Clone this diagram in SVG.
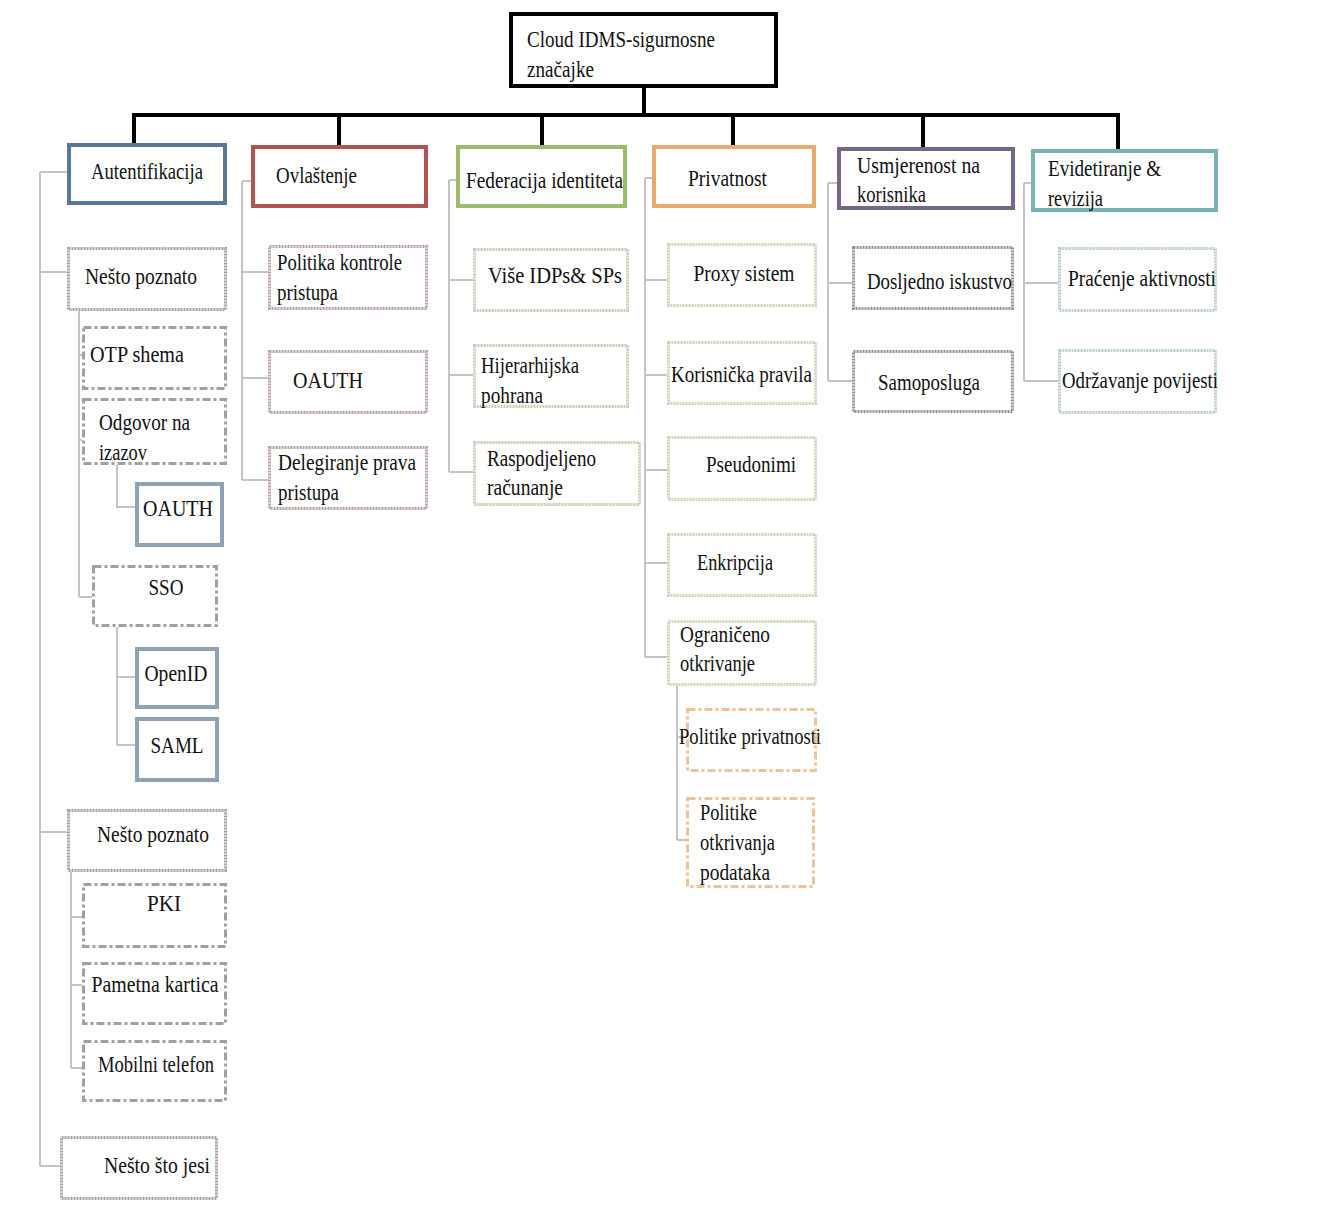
<svg xmlns="http://www.w3.org/2000/svg" width="1327" height="1207" viewBox="0 0 1327 1207">
<style>
text{font-family:"Liberation Serif","Times New Roman",serif;font-size:24px;fill:#111}
.m{text-anchor:middle}
rect{fill:#fff}
.root{stroke:#000;stroke-width:4}
.l1{stroke-width:4}
.dot{stroke-width:3;stroke-dasharray:2 1}
.dd{stroke-width:3;stroke-dasharray:8 3 3 3}
.bl{stroke:#8fa3b6;stroke-width:4}
.main{stroke:#000;stroke-width:4;fill:none}
.sub{stroke:#c4c4c4;stroke-width:2;fill:none}
</style>
<rect x="0" y="0" width="1327" height="1207" fill="#fff"/>
<g id="connectors">
<path class="main" d="M644 88V115M132 115H1120M134 115V143M339 115V145M542 115V145M733 115V145M923 115V147M1118 115V149"/>
<path class="sub" d="M40 172V1166M40 172H67M40 272H67M40 832H67M40 1166H60"/>
<path class="sub" d="M79 311V597M79 355H82M79 440H82M79 597H92M117 465V507H135M117 627V745M117 677H135M117 745H135"/>
<path class="sub" d="M71 872V1068M71 917H82M71 985H82M71 1068H82"/>
<path class="sub" d="M242 181V480M242 181H251M242 272H268M242 378H268M242 480H268"/>
<path class="sub" d="M449 180V472M449 180H456M449 280H473M449 375H473M449 472H473"/>
<path class="sub" d="M645 178V657M645 178H652M645 280H667M645 375H667M645 470H667M645 563H667M645 657H667"/>
<path class="sub" d="M677 686V840M677 737H686M677 840H686"/>
<path class="sub" d="M828 183V381M828 183H837M828 283H852M828 381H852"/>
<path class="sub" d="M1024 183V381M1024 183H1031M1024 283H1058M1024 381H1058"/>
</g>
<g id="root"><rect class="root" x="511" y="14" width="265" height="72"/>
<text x="527" y="47" textLength="188" lengthAdjust="spacingAndGlyphs">Cloud IDMS-sigurnosne</text>
<text x="527" y="77" textLength="67" lengthAdjust="spacingAndGlyphs">značajke</text></g>
<g id="autentifikacija"><rect class="l1" stroke="#5a7896" x="69" y="145" width="156" height="58"/>
<text class="m" x="147" y="179" textLength="112" lengthAdjust="spacingAndGlyphs">Autentifikacija</text></g>
<g id="ovlastenje"><rect class="l1" stroke="#b05454" x="253" y="147" width="173" height="59"/>
<text x="276" y="183" textLength="81" lengthAdjust="spacingAndGlyphs">Ovlaštenje</text></g>
<g id="federacija"><rect class="l1" stroke="#9cbb6c" x="458" y="147" width="167" height="59"/>
<text x="466" y="188" textLength="157" lengthAdjust="spacingAndGlyphs">Federacija identiteta</text></g>
<g id="privatnost"><rect class="l1" stroke="#e8aa6c" x="654" y="147" width="160" height="59"/>
<text x="688" y="186" textLength="79" lengthAdjust="spacingAndGlyphs">Privatnost</text></g>
<g id="usmjerenost"><rect class="l1" stroke="#76668a" x="839" y="149" width="174" height="59"/>
<text x="857" y="173" textLength="123" lengthAdjust="spacingAndGlyphs">Usmjerenost na</text>
<text x="857" y="202" textLength="69" lengthAdjust="spacingAndGlyphs">korisnika</text></g>
<g id="evidetiranje"><rect class="l1" stroke="#7ab2b8" x="1033" y="151" width="183" height="59"/>
<text x="1048" y="176" textLength="113" lengthAdjust="spacingAndGlyphs">Evidetiranje &amp;</text>
<text x="1048" y="206" textLength="55" lengthAdjust="spacingAndGlyphs">revizija</text></g>

<g id="nesto-poznato-1"><rect class="dot" stroke="#a4a4a4" x="68.5" y="248.5" width="157" height="61"/>
<text class="m" x="141" y="284" textLength="112" lengthAdjust="spacingAndGlyphs">Nešto poznato</text></g>
<g id="otp"><rect class="dd" stroke="#a0a0a0" x="83.5" y="327.5" width="142" height="61"/>
<text x="90" y="362" textLength="94" lengthAdjust="spacingAndGlyphs">OTP shema</text></g>
<g id="odgovor"><rect class="dd" stroke="#a0a0a0" x="83.5" y="399.5" width="142" height="64"/>
<text x="99" y="430" textLength="91" lengthAdjust="spacingAndGlyphs">Odgovor na</text>
<text x="99" y="460" textLength="48" lengthAdjust="spacingAndGlyphs">izazov</text></g>
<g id="oauth-1"><rect class="bl" x="137" y="484" width="85" height="61"/>
<text class="m" x="178" y="516" textLength="70" lengthAdjust="spacingAndGlyphs">OAUTH</text></g>
<g id="sso"><rect class="dd" stroke="#a0a0a0" x="93.5" y="566.5" width="123" height="59"/>
<text class="m" x="166" y="595" textLength="35" lengthAdjust="spacingAndGlyphs">SSO</text></g>
<g id="openid"><rect class="bl" x="137" y="649" width="80" height="58"/>
<text class="m" x="176" y="681" textLength="63" lengthAdjust="spacingAndGlyphs">OpenID</text></g>
<g id="saml"><rect class="bl" x="137" y="719" width="80" height="61"/>
<text class="m" x="177" y="753" textLength="53" lengthAdjust="spacingAndGlyphs">SAML</text></g>
<g id="nesto-poznato-2"><rect class="dot" stroke="#a4a4a4" x="68.5" y="810.5" width="157" height="60"/>
<text class="m" x="153" y="842" textLength="112" lengthAdjust="spacingAndGlyphs">Nešto poznato</text></g>
<g id="pki"><rect class="dd" stroke="#a0a0a0" x="83.5" y="884.5" width="142" height="62"/>
<text class="m" x="164" y="911" textLength="34" lengthAdjust="spacingAndGlyphs">PKI</text></g>
<g id="pametna"><rect class="dd" stroke="#a0a0a0" x="83.5" y="963.5" width="142" height="60"/>
<text class="m" x="155" y="992" textLength="127" lengthAdjust="spacingAndGlyphs">Pametna kartica</text></g>
<g id="mobilni"><rect class="dd" stroke="#a0a0a0" x="83.5" y="1041.5" width="142" height="59"/>
<text class="m" x="156" y="1072" textLength="116" lengthAdjust="spacingAndGlyphs">Mobilni telefon</text></g>
<g id="nesto-sto-jesi"><rect class="dot" stroke="#a4a4a4" x="61.5" y="1137.5" width="155" height="61"/>
<text class="m" x="157" y="1173" textLength="106" lengthAdjust="spacingAndGlyphs">Nešto što jesi</text></g>

<g id="politika"><rect class="dot" stroke="#b8a2a2" x="269.5" y="246.5" width="157" height="62"/>
<text x="277" y="270" textLength="125" lengthAdjust="spacingAndGlyphs">Politika kontrole</text>
<text x="277" y="300" textLength="61" lengthAdjust="spacingAndGlyphs">pristupa</text></g>
<g id="oauth-2"><rect class="dot" stroke="#b8a2a2" x="269.5" y="351.5" width="157" height="61"/>
<text x="293" y="388" textLength="70" lengthAdjust="spacingAndGlyphs">OAUTH</text></g>
<g id="delegiranje"><rect class="dot" stroke="#b8a2a2" x="269.5" y="447.5" width="157" height="61"/>
<text x="278" y="470" textLength="138" lengthAdjust="spacingAndGlyphs">Delegiranje prava</text>
<text x="278" y="500" textLength="61" lengthAdjust="spacingAndGlyphs">pristupa</text></g>

<g id="vise"><rect class="dot" stroke="#cacdb4" x="474.5" y="249.5" width="153" height="61"/>
<text x="488" y="283" textLength="134" lengthAdjust="spacingAndGlyphs">Više IDPs&amp; SPs</text></g>
<g id="hijerarhijska"><rect class="dot" stroke="#cacdb4" x="474.5" y="345.5" width="153" height="61"/>
<text x="481" y="373" textLength="98" lengthAdjust="spacingAndGlyphs">Hijerarhijska</text>
<text x="481" y="403" textLength="62" lengthAdjust="spacingAndGlyphs">pohrana</text></g>
<g id="raspodjeljeno"><rect class="dot" stroke="#cacdb4" x="474.5" y="442.5" width="165" height="62"/>
<text x="487" y="466" textLength="109" lengthAdjust="spacingAndGlyphs">Raspodjeljeno</text>
<text x="487" y="495" textLength="76" lengthAdjust="spacingAndGlyphs">računanje</text></g>

<g id="proxy"><rect class="dot" stroke="#d8cdb9" x="668.5" y="244.5" width="147" height="61"/>
<text class="m" x="744" y="281" textLength="101" lengthAdjust="spacingAndGlyphs">Proxy sistem</text></g>
<g id="korisnicka"><rect class="dot" stroke="#d8cdb9" x="668.5" y="342.5" width="147" height="61"/>
<text x="671" y="382" textLength="141" lengthAdjust="spacingAndGlyphs">Korisnička pravila</text></g>
<g id="pseudonimi"><rect class="dot" stroke="#d8cdb9" x="668.5" y="437.5" width="147" height="62"/>
<text class="m" x="751" y="472" textLength="90" lengthAdjust="spacingAndGlyphs">Pseudonimi</text></g>
<g id="enkripcija"><rect class="dot" stroke="#d8cdb9" x="668.5" y="534.5" width="147" height="61"/>
<text class="m" x="735" y="570" textLength="76" lengthAdjust="spacingAndGlyphs">Enkripcija</text></g>
<g id="ograniceno"><rect class="dot" stroke="#d8cdb9" x="668.5" y="621.5" width="147" height="63"/>
<text x="680" y="642" textLength="90" lengthAdjust="spacingAndGlyphs">Ograničeno</text>
<text x="680" y="671" textLength="75" lengthAdjust="spacingAndGlyphs">otkrivanje</text></g>
<g id="politike-privatnosti"><rect class="dd" stroke="#ebc39c" x="687.5" y="709.5" width="128" height="61"/>
<text x="679" y="744" textLength="142" lengthAdjust="spacingAndGlyphs">Politike privatnosti</text></g>
<g id="politike-otkrivanja"><rect class="dd" stroke="#ebc39c" x="687.5" y="798.5" width="126" height="88"/>
<text x="700" y="820" textLength="57" lengthAdjust="spacingAndGlyphs">Politike</text>
<text x="700" y="850" textLength="75" lengthAdjust="spacingAndGlyphs">otkrivanja</text>
<text x="700" y="880" textLength="70" lengthAdjust="spacingAndGlyphs">podataka</text></g>

<g id="dosljedno"><rect class="dot" stroke="#939393" x="853.5" y="247.5" width="159" height="61"/>
<text x="867" y="289" textLength="145" lengthAdjust="spacingAndGlyphs">Dosljedno iskustvo</text></g>
<g id="samoposluga"><rect class="dot" stroke="#939393" x="853.5" y="351.5" width="159" height="60"/>
<text x="878" y="390" textLength="102" lengthAdjust="spacingAndGlyphs">Samoposluga</text></g>
<g id="pracenje"><rect class="dot" stroke="#b9cdcd" x="1059.5" y="248.5" width="156" height="62"/>
<text x="1068" y="286" textLength="148" lengthAdjust="spacingAndGlyphs">Praćenje aktivnosti</text></g>
<g id="odrzavanje"><rect class="dot" stroke="#b9cdcd" x="1059.5" y="350.5" width="156" height="62"/>
<text x="1062" y="388" textLength="156" lengthAdjust="spacingAndGlyphs">Održavanje povijesti</text></g>
</svg>
